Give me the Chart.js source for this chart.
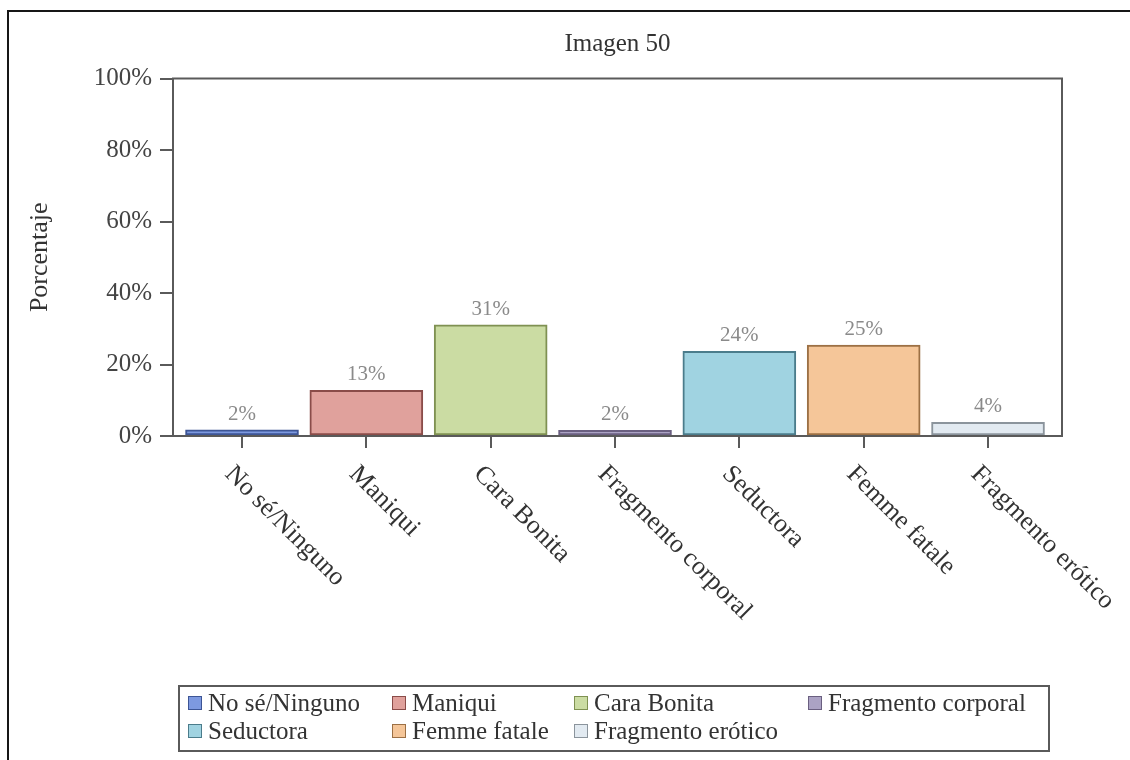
<!DOCTYPE html>
<html lang="es">
  <head>
    <meta charset="utf-8" />
    <title>Imagen 50</title>
    <style>
      html,
      body {
        margin: 0;
        padding: 0;
        background: #ffffff;
      }
      #wrap {
        position: relative;
        width: 1130px;
        height: 760px;
      }
    </style>
    <script src="https://cdn.jsdelivr.net/npm/chart.js"></script>
  </head>
  <body>
    <div id="wrap">
      <canvas id="imagenChart"></canvas>
    </div>

    <script>
      const categories = [
        "No sé/Ninguno",
        "Maniqui",
        "Cara Bonita",
        "Fragmento corporal",
        "Seductora",
        "Femme fatale",
        "Fragmento erótico",
      ];
      const tickLabels = [
        "No sé/Ninguno",
        "Maniqui",
        "Cara Bonita",
        "Fragmento corporal",
        "Seductora",
        "Femme fatale",
        "Fragmento erótico",
      ];
      const percentages = [1.7, 12.8, 31.1, 1.6, 23.7, 25.4, 3.8];
      const yTicks = [0, 20, 40, 60, 80, 100];

      const fillColors = [
        "#7d99e0",
        "#e0a19c",
        "#cbdca3",
        "#aba2c4",
        "#a0d3e1",
        "#f5c699",
        "#e2eaf1",
      ];
      const edgeColors = [
        "#3d5595",
        "#8a4c49",
        "#7f9152",
        "#6a5f80",
        "#4b7c8b",
        "#9c7045",
        "#8b949c",
      ];

      const serif = "'Liberation Serif', 'DejaVu Serif', serif";

      // white page + the black frame on the left and top
      const framePlugin = {
        id: "frame",
        beforeDraw(chart) {
          const ctx = chart.ctx;
          ctx.save();
          ctx.fillStyle = "#ffffff";
          ctx.fillRect(0, 0, chart.width, chart.height);
          ctx.strokeStyle = "#161616";
          ctx.lineWidth = 2;
          ctx.beginPath();
          ctx.moveTo(8, chart.height);
          ctx.lineTo(8, 11);
          ctx.lineTo(chart.width, 11);
          ctx.stroke();
          ctx.restore();
        },
      };

      // box round the plot, value labels, rotated category labels, legend
      const extrasPlugin = {
        id: "extras",
        afterDatasetsDraw(chart) {
          const ctx = chart.ctx;
          const meta = chart.getDatasetMeta(0);
          ctx.save();
          ctx.font = "21px " + serif;
          ctx.fillStyle = "#8a8a8a";
          ctx.textAlign = "center";
          ctx.textBaseline = "alphabetic";
          meta.data.forEach((bar, i) => {
            ctx.fillText(Math.round(percentages[i]) + "%", bar.x, bar.y - 10);
          });
          ctx.restore();
        },
        afterDraw(chart) {
          const ctx = chart.ctx;
          const a = chart.chartArea;
          const xScale = chart.scales.x;
          ctx.save();

          ctx.strokeStyle = "#5a5a5a";
          ctx.lineWidth = 2;
          ctx.strokeRect(a.left, a.top, a.right - a.left, a.bottom - a.top);

          ctx.font = "26px " + serif;
          ctx.fillStyle = "#333333";
          ctx.textAlign = "left";
          ctx.textBaseline = "alphabetic";
          tickLabels.forEach((label, i) => {
            const x = xScale.getPixelForValue(i);
            ctx.save();
            ctx.translate(x - 18, a.bottom + 39);
            ctx.rotate(Math.PI / 4);
            ctx.fillText(label, 0, 0);
            ctx.restore();
          });

          // legend, 4 columns
          const colX = [188, 392, 574, 808];
          const rowY = [703, 731];
          ctx.strokeStyle = "#5a5a5a";
          ctx.lineWidth = 2;
          ctx.strokeRect(179, 686, 870, 65);
          ctx.font = "25px " + serif;
          ctx.textBaseline = "middle";
          categories.forEach((name, i) => {
            const x = colX[i % 4];
            const y = rowY[Math.floor(i / 4)];
            ctx.fillStyle = fillColors[i];
            ctx.fillRect(x, y - 7, 14, 14);
            ctx.strokeStyle = edgeColors[i];
            ctx.lineWidth = 1;
            ctx.strokeRect(x + 0.5, y - 6.5, 13, 13);
            ctx.fillStyle = "#333333";
            ctx.fillText(name, x + 20, y + 1);
          });

          ctx.restore();
        },
      };

      const ctx = document.getElementById("imagenChart").getContext("2d");
      new Chart(ctx, {
        type: "bar",
        data: {
          datasets: [
            {
              data: percentages.map((v, i) => ({ x: i, y: v })),
              backgroundColor: fillColors,
              borderColor: edgeColors,
              borderWidth: 2,
              borderSkipped: false,
              barThickness: 113,
            },
          ],
        },
        options: {
          responsive: true,
          maintainAspectRatio: false,
          animation: false,
          layout: {
            padding: { left: 18, right: 68, top: 0, bottom: 0 },
          },
          plugins: {
            legend: { display: false },
            tooltip: { enabled: false },
            title: {
              display: true,
              text: "Imagen 50",
              fullSize: false,
              color: "#333333",
              font: { family: serif, size: 25, weight: "normal" },
              padding: { top: 29, bottom: 19.5 },
            },
          },
          scales: {
            x: {
              type: "linear",
              offset: false,
              min: -0.555,
              max: 6.595,
              afterBuildTicks: (scale) => {
                scale.ticks = categories.map((c, i) => ({ value: i }));
              },
              afterFit: (scale) => {
                scale.height = 324;
              },
              ticks: { display: false },
              grid: {
                offset: false,
                drawOnChartArea: false,
                drawTicks: true,
                tickLength: 12,
                color: "#5a5a5a",
                lineWidth: 2,
              },
              border: { display: true, color: "#5a5a5a", width: 2 },
            },
            y: {
              min: 0,
              max: 100,
              afterBuildTicks: (scale) => {
                scale.ticks = yTicks.map((v) => ({ value: v }));
              },
              afterFit: (scale) => {
                scale.width = 155;
              },
              ticks: {
                color: "#444444",
                padding: 8,
                font: { family: serif, size: 25 },
                callback: (v) => v + "%",
              },
              grid: {
                drawOnChartArea: false,
                drawTicks: true,
                tickLength: 13,
                color: "#5a5a5a",
                lineWidth: 2,
              },
              border: { display: true, color: "#5a5a5a", width: 2 },
              title: {
                display: true,
                text: "Porcentaje",
                color: "#333333",
                font: { family: serif, size: 26 },
                padding: { top: 7, bottom: 0 },
              },
            },
          },
        },
        plugins: [framePlugin, extrasPlugin],
      });
    </script>
  </body>
</html>
